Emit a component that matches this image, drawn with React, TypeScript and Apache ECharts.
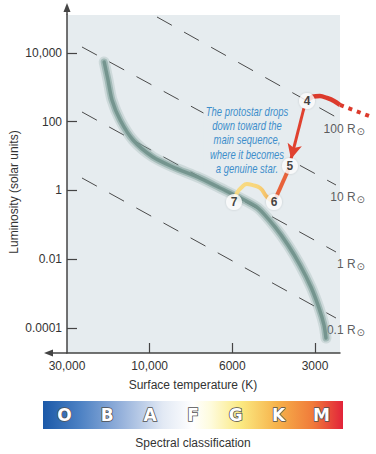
import React, { useEffect, useRef } from 'react';
import * as echarts from 'echarts';

const FONT = "'Liberation Sans', Arial, sans-serif";

// Axis ticks
const tempTicks = [30000, 10000, 6000, 3000];
const tempTickLabels = ['30,000', '10,000', '6000', '3000'];
const lumTicks = [10000, 100, 1, 0.01, 0.0001];
const lumTickLabels = ['10,000', '100', '1', '0.01', '0.0001'];
const tempRightEdge = 2432;
const lumBottom = 1.875e-5;
const lumTop = 127300;

// Main sequence band
const msTemp = [18300, 17400, 16500, 14800, 12470, 9800, 8650, 7330, 6470, 5620, 4840, 4195, 3762, 3402, 3102, 2900, 2781, 2735];
const msLum = [5470, 1640, 430, 112, 29.4, 9.4, 4.8, 2.3, 1.18, 0.61, 0.31, 0.087, 0.026, 0.0068, 0.00156, 0.00038, 0.000122, 0.000051];

// Constant-radius lines
const radiusLabels = ['100 R', '10 R', '1 R', '0.1 R'];
const rStartTemp = [9556, 24580, 24580, 24580];
const rStartLum = [111400, 14940, 192, 2.31];
const rEndTemp = [2515, 2515, 2515, 2515];
const rEndLum = [137, 1.445, 0.01626, 0.000195];

// Protostar track
const stageNames = ['4', '5', '6', '7'];
const stageTemp = [3208, 3700, 4230, 5915];
const stageLum = [402, 5.16, 0.463, 0.463];
const redArcTemp = [3208, 3050, 2876, 2713, 2557, 2432];
const redArcLum = [402, 540, 561, 491, 402, 307];
const dottedTemp = [2432, 1860];
const dottedLum = [307, 137];
const arrowTemp = [3290, 3667];
const arrowLum = [251, 8.25];
const dropTemp = [3700, 4230];
const dropLum = [5.16, 0.463];
const yellowTemp = [4230, 4486, 4753, 5087, 5305, 5532, 5769, 5915];
const yellowLum = [0.463, 0.647, 1.18, 1.45, 1.55, 1.26, 0.846, 0.463];

const spectralLetters = ['O', 'B', 'A', 'F', 'G', 'K', 'M'];

const lk = tempTicks.map((t) => Math.log10(t));
function tPos(T: number): number {
  const lt = Math.log10(T);
  let i = 2;
  if (lt >= lk[1]) i = 0;
  else if (lt >= lk[2]) i = 1;
  return i + (lk[i] - lt) / (lk[i] - lk[i + 1]);
}
const pt = (T: number, L: number) => [tPos(T), Math.log10(L)];
const pts = (ts: number[], ls: number[]) => ts.map((t, i) => pt(t, ls[i]));

const labelStyle = { color: '#333', fontSize: 12, fontFamily: FONT };

function buildOption() {
  const xTickVals = tempTicks.map(tPos);
  const yTickVals = lumTicks.map((l) => Math.log10(l));
  const nearest = (vals: number[], labels: string[], v: number) => {
    let best = 0;
    vals.forEach((x, i) => {
      if (Math.abs(x - v) < Math.abs(vals[best] - v)) best = i;
    });
    return labels[best];
  };

  const radiusSeries = radiusLabels.map((_, i) => ({
    type: 'line',
    z: 1,
    silent: true,
    symbol: 'none',
    data: [pt(rStartTemp[i], rStartLum[i]), pt(rEndTemp[i], rEndLum[i])],
    lineStyle: { color: '#4a4a4a', width: 1, type: [17, 14] },
  }));

  // Main sequence drawn as three stacked strokes for a soft, glowing band
  const msLayers = [
    { width: 11, color: 'rgba(140,170,165,0.28)' },
    { width: 7, color: 'rgba(128,160,154,0.55)' },
    { width: 3.5, color: 'rgba(112,145,139,0.9)' },
  ].map((l) => ({
    type: 'line',
    z: 3,
    silent: true,
    symbol: 'none',
    smooth: 0.25,
    data: pts(msTemp, msLum),
    lineStyle: { color: l.color, width: l.width, cap: 'round', join: 'round' },
  }));

  return {
    animation: false,
    grid: { left: 67, right: 36, top: 15, bottom: 101, show: true, backgroundColor: '#e6ecef', borderWidth: 0 },
    xAxis: {
      type: 'value',
      min: 0,
      max: tPos(tempRightEdge),
      splitLine: { show: false },
      axisLine: { show: true, onZero: false, lineStyle: { color: '#444', width: 1.5 } },
      axisTick: { show: true, inside: true, length: 10, customValues: xTickVals.slice(1), lineStyle: { color: '#444', width: 1.2 } },
      axisLabel: {
        ...labelStyle,
        margin: 7,
        customValues: xTickVals,
        formatter: (v: number) => nearest(xTickVals, tempTickLabels, v),
      },
    },
    yAxis: {
      type: 'value',
      min: Math.log10(lumBottom),
      max: Math.log10(lumTop),
      splitLine: { show: false },
      axisLine: { show: true, onZero: false, lineStyle: { color: '#444', width: 1.5 } },
      axisTick: { show: true, inside: true, length: 10, customValues: yTickVals, lineStyle: { color: '#444', width: 1.2 } },
      axisLabel: {
        ...labelStyle,
        margin: 5,
        customValues: yTickVals,
        formatter: (v: number) => nearest(yTickVals, lumTickLabels, v),
      },
    },
    series: [
      ...radiusSeries,
      {
        type: 'scatter',
        z: 1,
        silent: true,
        symbol: 'circle',
        symbolSize: 1,
        itemStyle: { color: 'rgba(0,0,0,0)' },
        data: radiusLabels.map((n, i) => ({ name: n, value: pt(rEndTemp[i], rEndLum[i]) })),
        label: {
          show: true,
          position: 'inside',
          align: 'right',
          verticalAlign: 'middle',
          offset: [29, 12],
          formatter: (p: any) => `{a|${p.name}}{b|⊙}`,
          rich: {
            a: { color: '#333', fontSize: 12, fontFamily: FONT },
            b: { color: '#333', fontSize: 10, fontFamily: 'DejaVu Sans', padding: [5, 0, 0, 1] },
          },
        },
      },
      ...msLayers,
      {
        type: 'line',
        z: 4,
        silent: true,
        symbol: 'none',
        smooth: 0.3,
        data: pts(redArcTemp, redArcLum),
        lineStyle: { color: '#dc3a2c', width: 4.5 },
      },
      {
        type: 'line',
        z: 4,
        silent: true,
        symbol: 'none',
        data: pts(dropTemp, dropLum),
        lineStyle: { color: '#e8623a', width: 4 },
      },
      {
        type: 'line',
        z: 4,
        silent: true,
        symbol: 'none',
        smooth: true,
        data: pts(yellowTemp, yellowLum),
        lineStyle: {
          width: 4,
          color: {
            type: 'linear', x: 0, y: 0, x2: 1, y2: 0,
            colorStops: [
              { offset: 0, color: '#f8dc86' },
              { offset: 0.6, color: '#f8d57a' },
              { offset: 1, color: '#f1ad56' },
            ],
          },
        },
      },
      {
        type: 'line',
        z: 4,
        silent: true,
        symbol: 'none',
        data: [],
        markLine: {
          silent: true,
          animation: false,
          symbol: ['none', 'arrow'],
          symbolSize: [11, 15],
          label: { show: false },
          lineStyle: { color: '#e0412f', width: 3, type: 'solid' },
          emphasis: { disabled: true },
          data: [[{ coord: pt(arrowTemp[0], arrowLum[0]) }, { coord: pt(arrowTemp[1], arrowLum[1]) }]],
        },
      },
      {
        type: 'scatter',
        z: 6,
        silent: true,
        symbol: 'circle',
        symbolSize: 16,
        itemStyle: { color: '#ffffff', shadowBlur: 2, shadowColor: 'rgba(0,0,0,0.2)' },
        data: stageNames.map((n, i) => ({ name: n, value: pt(stageTemp[i], stageLum[i]) })),
        label: {
          show: true,
          position: 'inside',
          formatter: '{b}',
          color: '#111',
          fontSize: 12,
          fontWeight: 'bold',
          fontFamily: FONT,
        },
      },
    ],
    graphic: [
      { type: 'line', z: 10, silent: true, shape: { x1: 67, y1: 15, x2: 67, y2: 9 }, style: { stroke: '#444', lineWidth: 1.5 } },
      { type: 'polygon', z: 10, silent: true, shape: { points: [[67, 3], [63.5, 12], [70.5, 12]] }, style: { fill: '#444' } },
      { type: 'line', z: 10, silent: true, shape: { x1: 52, y1: 353, x2: 67, y2: 353 }, style: { stroke: '#444', lineWidth: 1.5 } },
      { type: 'polygon', z: 10, silent: true, shape: { points: [[44, 353], [53, 349.5], [53, 356.5]] }, style: { fill: '#444' } },
      {
        type: 'text', z: 10, silent: true, x: 14, y: 192, rotation: Math.PI / 2,
        style: { text: 'Luminosity (solar units)', align: 'center', verticalAlign: 'middle', fill: '#333', fontSize: 12, fontFamily: FONT },
      },
      {
        type: 'text', z: 10, silent: true, x: 193, y: 385,
        style: { text: 'Surface temperature (K)', align: 'center', verticalAlign: 'middle', fill: '#333', fontSize: 12, fontFamily: FONT },
      },
      {
        type: 'rect', z: 10, silent: true,
        shape: { x: 43, y: 401, width: 300, height: 28 },
        style: {
          fill: new echarts.graphic.LinearGradient(0, 0, 1, 0, [
            { offset: 0, color: '#1b59a8' },
            { offset: 0.12, color: '#4b80c3' },
            { offset: 0.26, color: '#95b1db' },
            { offset: 0.4, color: '#e2e9f4' },
            { offset: 0.5, color: '#ffffff' },
            { offset: 0.56, color: '#fefbdc' },
            { offset: 0.66, color: '#fbe981' },
            { offset: 0.78, color: '#f6b24b' },
            { offset: 0.9, color: '#f07a3a' },
            { offset: 1, color: '#e2233a' },
          ]),
        },
      },
      ...spectralLetters.map((s, i) => ({
        type: 'text', z: 11, silent: true,
        x: 43 + (i + 0.5) * (300 / spectralLetters.length),
        y: 415,
        style: {
          text: s, align: 'center', verticalAlign: 'middle',
          fill: '#ffffff', stroke: '#505050', lineWidth: 1.5,
          fontSize: 17, fontWeight: 'bold', fontFamily: "'DejaVu Sans', sans-serif",
        },
      })),
      {
        type: 'text', z: 10, silent: true, x: 193, y: 443,
        style: { text: 'Spectral classification', align: 'center', verticalAlign: 'middle', fill: '#333', fontSize: 12, fontFamily: FONT },
      },
      {
        type: 'text', z: 2, silent: true, x: 247, y: 104, scaleX: 0.74,
        style: {
          text: 'The protostar drops\ndown toward the\nmain sequence,\nwhere it becomes\na genuine star.',
          align: 'center', verticalAlign: 'top', lineHeight: 14.3,
          fill: '#3d8ecb', fontSize: 12.8, fontStyle: 'italic', fontFamily: FONT,
          backgroundColor: '#e6ecef', padding: [0, 3],
        },
      },
    ],
  };
}

export default function App() {
  const ref = useRef<HTMLDivElement>(null);
  useEffect(() => {
    document.body.style.margin = '0';
    const chart = echarts.init(ref.current!, null, { renderer: 'svg' });
    const option: any = buildOption();
    chart.setOption(option);
    // Dotted continuation of the track runs past the plot edge: place it through the chart's own scales.
    const dotted = pts(dottedTemp, dottedLum).map((p) => chart.convertToPixel({ gridIndex: 0 }, p) as number[]);
    chart.setOption({
      graphic: [
        ...option.graphic,
        {
          type: 'polyline', z: 4, silent: true,
          shape: { points: dotted },
          style: { stroke: '#dc3a2c', lineWidth: 4, lineDash: [4, 5], fill: null },
        },
      ],
    });
    return () => chart.dispose();
  }, []);
  return <div ref={ref} style={{ width: 376, height: 454 }} />;
}
